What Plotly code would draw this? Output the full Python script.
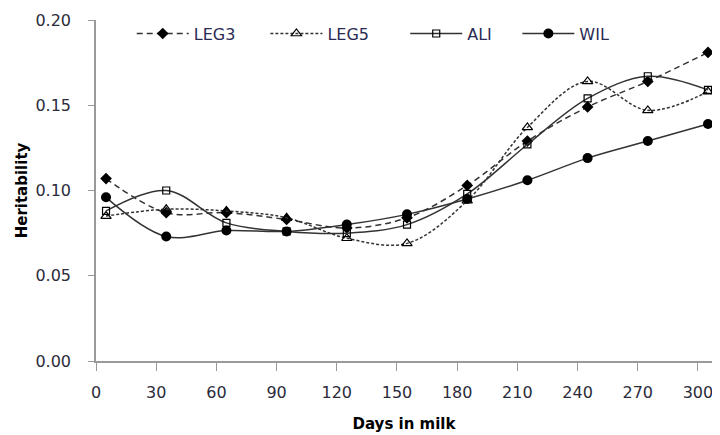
import plotly.graph_objects as go

days = [5, 35, 65, 95, 125, 155, 185, 215, 245, 275, 305]
leg3 = [0.107, 0.087, 0.087, 0.083, 0.078, 0.084, 0.103, 0.129, 0.149, 0.164, 0.181]
leg5 = [0.085, 0.089, 0.088, 0.084, 0.072, 0.069, 0.094, 0.137, 0.164, 0.147, 0.158]
ali = [0.088, 0.100, 0.081, 0.076, 0.075, 0.080, 0.098, 0.127, 0.154, 0.167, 0.159]
wil = [0.096, 0.073, 0.0765, 0.076, 0.080, 0.086, 0.095, 0.106, 0.119, 0.129, 0.139]
x_ticks = [0, 30, 60, 90, 120, 150, 180, 210, 240, 270, 300]
y_ticks = [0.00, 0.05, 0.10, 0.15, 0.20]

FONT = "DejaVu Sans"
TICKCOL = "#2b2b3a"
fig = go.Figure()
fig.add_trace(go.Scatter(x=days, y=leg3, name="LEG3", mode="lines+markers", legend="legend",
                         cliponaxis=False,
                         line=dict(color="#333333", width=1.5, dash="6px,4px", shape="spline"),
                         marker=dict(symbol="diamond", size=9, color="black")))
fig.add_trace(go.Scatter(x=days, y=leg5, name="LEG5", mode="lines+markers", legend="legend2",
                         cliponaxis=False,
                         line=dict(color="#333333", width=1.5, dash="3px,2px", shape="spline"),
                         marker=dict(symbol="triangle-up-open", size=9, color="black", line=dict(width=1.2))))
fig.add_trace(go.Scatter(x=days, y=ali, name="ALI", mode="lines+markers", legend="legend3",
                         cliponaxis=False,
                         line=dict(color="#333333", width=1.5, shape="spline"),
                         marker=dict(symbol="square-open", size=7, color="black", line=dict(width=1.2))))
fig.add_trace(go.Scatter(x=days, y=wil, name="WIL", mode="lines+markers", legend="legend4",
                         cliponaxis=False,
                         line=dict(color="#333333", width=1.5, shape="spline"),
                         marker=dict(symbol="circle", size=10, color="black")))

def leg(xfrac):
    return dict(x=xfrac, y=1.01, xanchor="left", yanchor="top", orientation="h",
                itemwidth=52,
                font=dict(size=16, color="#2a2a55", family=FONT), bgcolor="rgba(0,0,0,0)")

fig.update_layout(
    width=712, height=427,
    margin=dict(l=88, r=8, t=12, b=74),
    plot_bgcolor="white", paper_bgcolor="white",
    font=dict(family=FONT, size=16, color=TICKCOL),
    legend=leg(0.058), legend2=leg(0.275), legend3=leg(0.502), legend4=leg(0.684),
    showlegend=True,
)
fig.update_xaxes(range=[0, 307], tickvals=x_ticks, ticktext=[str(v) for v in x_ticks],
                 automargin=False,
                 showgrid=False, zeroline=False, showline=True, linecolor="#999999", linewidth=1.5,
                 ticks="outside", ticklen=8, tickcolor="#999999", ticklabelstandoff=8,
                 tickfont=dict(size=16, color=TICKCOL),
                 title=dict(text="<b>Days in milk</b>", font=dict(size=15, color="black"), standoff=18))
fig.update_yaxes(range=[0, 0.2], tickvals=y_ticks, ticktext=[f"{v:.2f}" for v in y_ticks],
                 automargin=False,
                 showgrid=False, zeroline=False, showline=True, linecolor="#999999", linewidth=1.5,
                 ticks="outside", ticklen=6, tickcolor="#999999", ticklabelstandoff=14,
                 tickfont=dict(size=16, color=TICKCOL),
                 title=dict(text="<b>Heritability</b>", font=dict(size=15, color="black"), standoff=4))

fig.write_html("out.html")
